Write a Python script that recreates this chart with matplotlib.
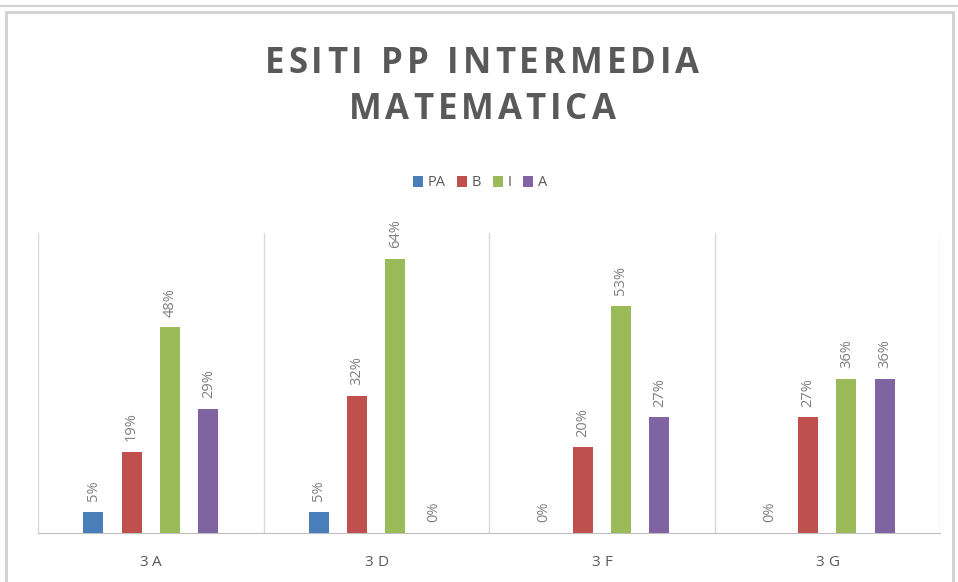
import numpy as np
import matplotlib.pyplot as plt
from matplotlib.patches import Rectangle
from matplotlib.lines import Line2D

plt.rcParams['font.family'] = ['Open Sans', 'DejaVu Sans']

# dati del grafico
classi = ['3A', '3D', '3F', '3G']
serie = ['PA', 'B', 'I', 'A']
PA = [5, 5, 0, 0]
B = [19, 32, 20, 27]
I = [48, 64, 53, 36]
A = [29, 0, 27, 36]
colori = ['#4a7ebb', '#c0504d', '#9bbb59', '#8064a2']
titolo = ['ESITI PP INTERMEDIA', 'MATEMATICA']

fig = plt.figure(figsize=(9.58, 5.82), dpi=100)
W, H = 958, 582
renderer = fig.canvas.get_renderer()


def testo_spaziato(s, xc, yc, spazio, **kw):
    # scrive il testo lettera per lettera con spaziatura extra (in pixel)
    larghezze = []
    for ch in s:
        t = fig.text(0, 0, ch if ch != ' ' else 'i', **kw)
        larghezze.append(t.get_window_extent(renderer).width)
        t.remove()
    tot = sum(larghezze) + spazio * (len(s) - 1)
    xp = xc - tot / 2
    for ch, w in zip(s, larghezze):
        if ch != ' ':
            fig.text(xp / W, 1 - yc / H, ch, ha='left', va='center', **kw)
        xp += w + spazio


# cornice esterna
fig.add_artist(Line2D([0, 1], [1 - 6 / H, 1 - 6 / H], color='#d0d0d0', lw=1.5))
fig.add_artist(Rectangle((6 / W, -0.1), (953 - 6) / W, 1.1 - 12 / H, fill=False,
                         edgecolor='#d0d0d0', lw=2.0))

ax = fig.add_axes([38 / W, 1 - 533 / H, (940 - 38) / W, (533 - 233) / H])

x = np.arange(len(classi))
passo = 0.17
larg = 0.088
for i, (nome, val) in enumerate(zip(serie, [PA, B, I, A])):
    pos = x + (i - 1.5) * passo
    ax.bar(pos, val, width=larg, color=colori[i], label=nome, zorder=3)
    for p, v in zip(pos, val):
        ax.text(p, v + 2.5, f'{v}%', rotation=90, ha='center', va='bottom',
                fontsize=10.5, color='#7f7f7f')

ax.set_xlim(-0.5, len(classi) - 0.5)
ax.set_ylim(0, 70)
for sp in ['top', 'right', 'left']:
    ax.spines[sp].set_visible(False)
ax.spines['bottom'].set_color('#bfbfbf')
ax.set_yticks([])
ax.set_xticks([])
for b in np.arange(-0.5, len(classi), 1):
    ax.axvline(b, color='#d9d9d9', lw=1, zorder=1)

# etichette delle classi
for xi, c in zip(x, classi):
    px = ax.transData.transform((xi, 0))[0]
    testo_spaziato(c, px, 562, 4, fontsize=11, color='#595959')

# titolo
testo_spaziato(titolo[0], 482, 64, 4, fontsize=25, fontweight='bold', color='#595959')
testo_spaziato(titolo[1], 482, 110, 4, fontsize=25, fontweight='bold', color='#595959')

fig.legend(loc='center', bbox_to_anchor=(480 / W, 1 - 183 / H), ncol=4, frameon=False,
           fontsize=10.5, handlelength=0.7, handleheight=0.7, handletextpad=0.3,
           columnspacing=0.8, labelcolor='#595959')

fig.savefig('out.png', dpi=100)
